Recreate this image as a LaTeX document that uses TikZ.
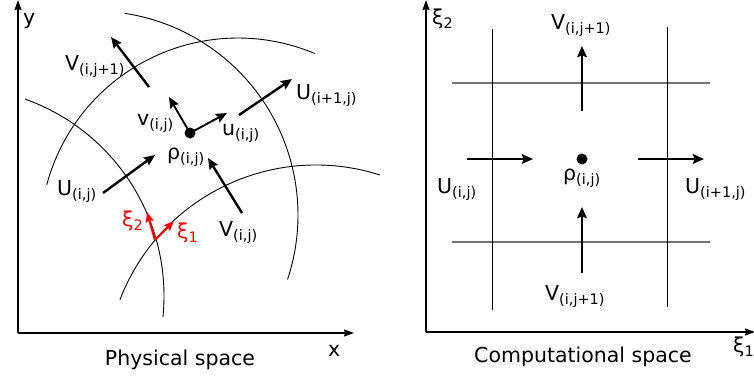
\documentclass[tikz,border=0pt]{standalone}
\usepackage{fontspec}
\setmainfont{DejaVu Sans}
\usetikzlibrary{arrows.meta}
\newcommand\lbl[2]{#1\raisebox{-4pt}{\fontsize{14.5}{14.5}\selectfont #2}}
\begin{document}
\begin{tikzpicture}[x=1pt,y=-1pt,
  arcline/.style={line width=0.9pt},
  vec/.style={line width=2.4pt, -{Stealth[length=11pt,width=9.5pt,inset=1.5pt]}},
  axisline/.style={line width=1.6pt, -{Stealth[length=10pt,width=7pt,inset=1pt]}},
  redvec/.style={line width=2.1pt, red, -{Stealth[length=10pt,width=8pt,inset=1.5pt]}},
  txt/.style={font=\fontsize{20.5}{24}\selectfont, inner sep=0pt, anchor=base west},
  redtxt/.style={txt, text=red},
  dot/.style={circle, fill=black, minimum size=11pt, inner sep=0pt},
  gridv/.style={line width=0.9pt},
  gridh/.style={line width=1.8pt, draw=black!55}]
\useasboundingbox (0,0) rectangle (754,376);
% ---------------- left panel ----------------
\coordinate (LO) at (18,333);
\coordinate (LY) at (18,0);
\coordinate (LX) at (354,333);
\draw[axisline] (LO) -- (LY);
\draw[axisline] (LO) -- (LX);
\node[txt] (ylab) at (23,24) {y};
\node[txt] (xlab) at (328,356) {x};
\node[txt, anchor=base] (phys) at (180,365) {Physical space};
% arcs
\draw[arcline] (94,215) ++(-81.2:204) arc[start angle=-81.2, end angle=18.4, radius=204];
\draw[arcline] (238,236) ++(-165:198) arc[start angle=-165, end angle=-67.2, radius=198];
\draw[arcline] (-45,296) ++(-70.4:209) arc[start angle=-70.4, end angle=5.8, radius=209];
\draw[arcline] (316,375) ++(-159:210) arc[start angle=-159, end angle=-72.3, radius=210];
% dot and vectors
\node[dot] (rhoL) at (190,133) {};
\coordinate (vt) at (169,97);
\coordinate (ut) at (227,113);
\draw[vec, line width=1.9pt] (rhoL.center) -- (vt);
\draw[vec, line width=1.9pt] (rhoL.center) -- (ut);
\coordinate (Vup0) at (149,87);  \coordinate (Vup1) at (111,37);
\coordinate (Uri0) at (239,115); \coordinate (Uri1) at (292,79);
\coordinate (Ule0) at (103,193); \coordinate (Ule1) at (155,155);
\coordinate (Vlo0) at (242,213); \coordinate (Vlo1) at (208,158);
\draw[vec] (Vup0) -- (Vup1);
\draw[vec] (Uri0) -- (Uri1);
\draw[vec] (Ule0) -- (Ule1);
\draw[vec] (Vlo0) -- (Vlo1);
% red local axes
\coordinate (xo) at (155,240);
\coordinate (x2) at (147,212);
\coordinate (x1) at (174,221);
\draw[redvec] (xo) -- (x2);
\draw[redvec] (xo) -- (x1);
% labels
\node[txt] (lVup) at (65,70) {\lbl{V}{(i,j+1)}};
\node[txt] (lUri) at (296,99) {\lbl{U}{(i+1,j)}};
\node[txt] (lv) at (137,125) {\lbl{v}{(i,j)}};
\node[txt] (lu) at (222,135) {\lbl{u}{(i,j)}};
\node[txt] (lrho) at (167,159) {\lbl{ρ}{(i,j)}};
\node[txt] (lUle) at (57,195) {\lbl{U}{(i,j)}};
\node[txt] (lVlo) at (219,236) {\lbl{V}{(i,j)}};
\node[redtxt] (lx2) at (122,226) {\lbl{ξ}{2}};
\node[redtxt] (lx1) at (177,238) {\lbl{ξ}{1}};
% ---------------- right panel ----------------
\coordinate (RO) at (426,332);
\coordinate (RY) at (426,0);
\coordinate (RX) at (755,332);
\draw[axisline] (RO) -- (RY);
\draw[axisline] (RO) -- (RX);
\node[txt] (xi2) at (432,24) {\lbl{ξ}{2}};
\node[txt] (xi1) at (733,352) {\lbl{ξ}{1}};
\node[txt, anchor=base] (comp) at (583,362) {Computational space};
% grid
\coordinate (g1t) at (492,29);  \coordinate (g1b) at (492,310);
\coordinate (g2t) at (667,27);  \coordinate (g2b) at (667,307);
\coordinate (h1l) at (452,83);  \coordinate (h1r) at (710,83);
\coordinate (h2l) at (452,242); \coordinate (h2r) at (710,242);
\draw[gridh] (h1l) -- (h1r);
\draw[gridh] (h2l) -- (h2r);
\draw[gridv] (g1t) -- (g1b);
\draw[gridv] (g2t) -- (g2b);
% dot and vectors
\node[dot] (rhoR) at (582,159) {};
\coordinate (RVt0) at (582,111); \coordinate (RVt1) at (582,46);
\coordinate (RVb0) at (582,273); \coordinate (RVb1) at (582,207);
\coordinate (RUl0) at (467,159); \coordinate (RUl1) at (533,159);
\coordinate (RUr0) at (638,159); \coordinate (RUr1) at (704,159);
\draw[vec] (RVt0) -- (RVt1);
\draw[vec] (RVb0) -- (RVb1);
\draw[vec] (RUl0) -- (RUl1);
\draw[vec] (RUr0) -- (RUr1);
% labels
\node[txt] (rVt) at (551,29) {\lbl{V}{(i,j+1)}};
\node[txt] (rrho) at (563,180) {\lbl{ρ}{(i,j)}};
\node[txt] (rUl) at (437,193) {\lbl{U}{(i,j)}};
\node[txt] (rUr) at (685,193) {\lbl{U}{(i+1,j)}};
\node[txt] (rVb) at (545,300) {\lbl{V}{(i,j+1)}};
\end{tikzpicture}
\end{document}
